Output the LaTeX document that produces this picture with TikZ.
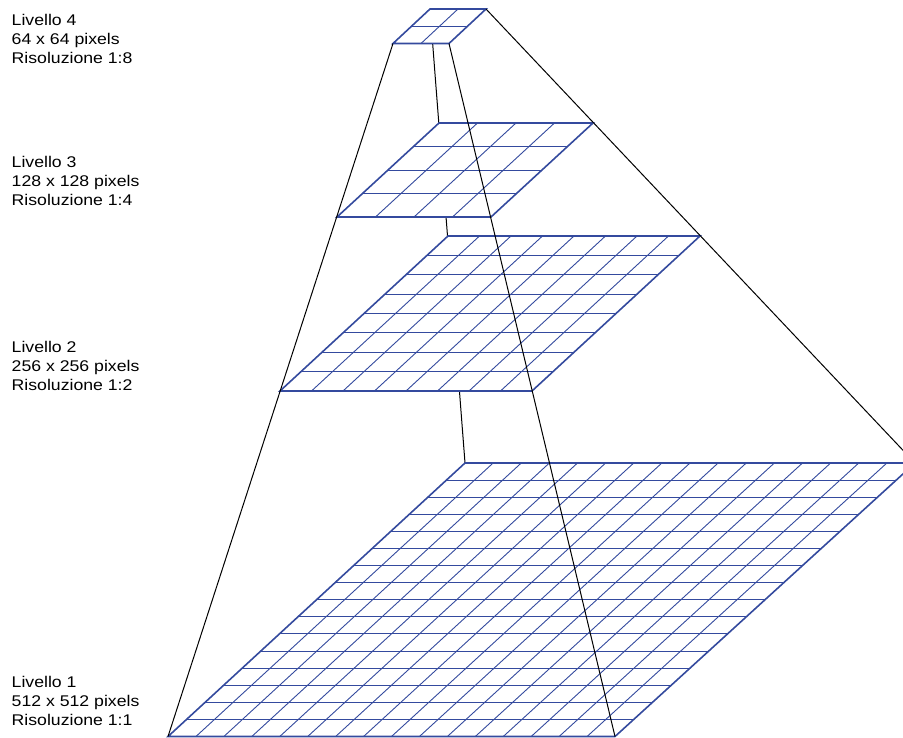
\documentclass[tikz,border=0pt]{standalone}
\usepackage{fontspec}
\newfontfamily\labfont[FakeStretch=1.14]{Liberation Sans}
\usetikzlibrary{calc}
\definecolor{gridblue}{RGB}{52,74,158}
\tikzset{
  gridin/.style={draw=gridblue, line width=0.9pt},
  gridout/.style={draw=gridblue, line width=1.6pt, line join=miter},
  edge/.style={draw=black, line width=1pt},
  lab/.style={anchor=base west, inner sep=0pt, font=\labfont\fontsize{15.5}{19}\selectfont}
}
\newcommand\pyrgrid[2]{%
  \fill[white] (bl#1) -- (br#1) -- (tr#1) -- (tl#1) -- cycle;
  \foreach \i in {1,...,\numexpr#2-1\relax}{
    \draw[gridin] ($(bl#1)!\i/#2!(tl#1)$) -- ($(br#1)!\i/#2!(tr#1)$);
    \draw[gridin] ($(bl#1)!\i/#2!(br#1)$) -- ($(tl#1)!\i/#2!(tr#1)$);
  }
  \draw[gridout] (bl#1) -- (br#1) -- (tr#1) -- (tl#1) -- cycle;
}
\begin{document}
\begin{tikzpicture}[x=1pt,y=-1pt]
\useasboundingbox (0,0) rectangle (903,738);
\clip (0,0) rectangle (903,738);
% corners
\coordinate (blA) at (168,736.5); \coordinate (brA) at (615,736.5);
\coordinate (trA) at (915,463);   \coordinate (tlA) at (465,463);
\coordinate (blB) at (280,391);   \coordinate (brB) at (532,391);
\coordinate (trB) at (700,236);   \coordinate (tlB) at (448,236);
\coordinate (blC) at (337,217);   \coordinate (brC) at (491,217);
\coordinate (trC) at (593,123);   \coordinate (tlC) at (439,123);
\coordinate (blD) at (393,43.5);  \coordinate (brD) at (449,43.5);
\coordinate (trD) at (486,9);     \coordinate (tlD) at (430,9);
% hidden back edge
\draw[edge] (tlD) -- (tlA);
% grids
\pyrgrid{A}{16}
\pyrgrid{B}{8}
\pyrgrid{C}{4}
\pyrgrid{D}{2}
% visible edges
\draw[edge] (blD) -- (blA);
\draw[edge] (trD) -- (trA);
\draw[edge] (brD) -- (brA);
% labels
\node[lab] (l4a) at (11.5,25.7) {Livello 4};
\node[lab] (l4b) at (11.5,44.7) {64 x 64 pixels};
\node[lab] (l4c) at (11.5,63.7) {Risoluzione 1:8};
\node[lab] (l3a) at (11.5,167.3) {Livello 3};
\node[lab] (l3b) at (11.5,186.7) {128 x 128 pixels};
\node[lab] (l3c) at (11.5,205.7) {Risoluzione 1:4};
\node[lab] (l2a) at (11.5,352.3) {Livello 2};
\node[lab] (l2b) at (11.5,371.7) {256 x 256 pixels};
\node[lab] (l2c) at (11.5,390.7) {Risoluzione 1:2};
\node[lab] (l1a) at (11.5,687.3) {Livello 1};
\node[lab] (l1b) at (11.5,706.7) {512 x 512 pixels};
\node[lab] (l1c) at (11.5,725.7) {Risoluzione 1:1};
\end{tikzpicture}
\end{document}
